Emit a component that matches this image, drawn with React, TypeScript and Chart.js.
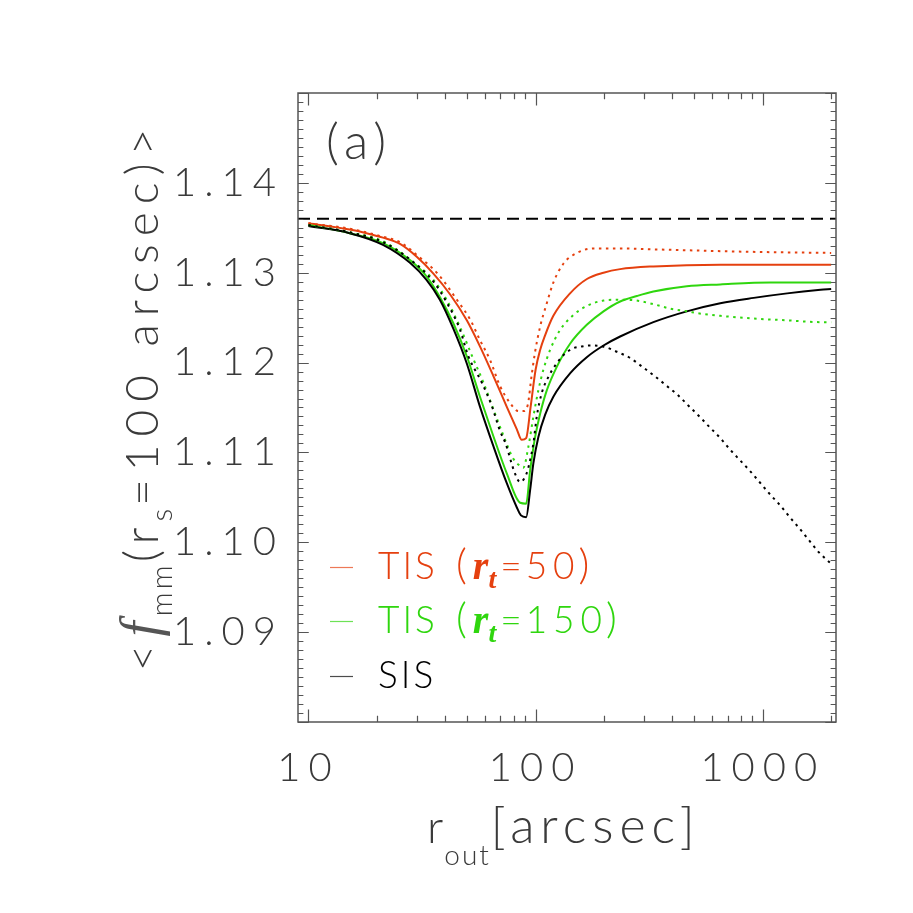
import React, { useEffect, useRef } from 'react';
import { Chart, registerables } from 'chart.js';

Chart.register(...registerables);

// ---- axis ranges & ticks ----
const X_MIN = 9;
const X_MAX = 2100;
const Y_MIN = 1.08;
const Y_MAX = 1.15;
const xTickValues = [10, 100, 1000];
const xTickLabels = ['10', '100', '1000'];
const xMinorTicks = [20, 30, 40, 50, 60, 70, 80, 90, 200, 300, 400, 500, 600, 700, 800, 900, 2000];
const yTickValues = [1.09, 1.1, 1.11, 1.12, 1.13, 1.14];
const yTickLabels = ['1.09', '1.10', '1.11', '1.12', '1.13', '1.14'];
const yMajorFrame = [1.08, 1.09, 1.1, 1.11, 1.12, 1.13, 1.14, 1.15];

// ---- reference level (dashed) ----
const refX = [9, 2100];
const refY = [1.136, 1.136];

// ---- TIS (r_t = 50), solid ----
const tis50X = [10, 15.2, 18.0, 21.3, 25.3, 29.9, 35.5, 42.0, 49.8, 56.9, 65.2, 74.6, 82.6, 86.9, 90.9, 95.0, 100.0, 104.7, 110, 119.7, 141.8, 168.2, 199, 235.6, 330, 650, 1000, 2000];
const tis50Y = [1.1355, 1.1348, 1.1344, 1.1339, 1.1332, 1.1318, 1.1299, 1.1276, 1.1247, 1.1218, 1.1185, 1.1151, 1.1126, 1.1114, 1.1116, 1.1150, 1.1192, 1.1214, 1.1230, 1.1252, 1.1277, 1.1293, 1.1300, 1.1304, 1.1307, 1.1309, 1.1309, 1.1309];

// ---- TIS (r_t = 50), dotted ----
const tis50dX = [10, 15.2, 21.3, 25.3, 31.6, 35.5, 39.3, 45.0, 51.5, 56.9, 63.0, 69.7, 77.2, 84.0, 88.3, 92.4, 96.2, 99.5, 104.7, 112, 119.7, 132.5, 152, 180, 235.6, 330, 650, 1000, 2000];
const tis50dY = [1.1355, 1.1349, 1.1340, 1.1334, 1.1315, 1.1304, 1.1291, 1.1270, 1.1248, 1.1225, 1.1203, 1.1174, 1.1155, 1.1146, 1.1146, 1.1153, 1.1187, 1.1212, 1.1240, 1.1266, 1.1289, 1.1310, 1.1322, 1.1327, 1.1327, 1.1326, 1.1324, 1.1323, 1.1322];

// ---- TIS (r_t = 150), solid ----
const tis150X = [10, 15.2, 21.3, 28.0, 33.1, 37.9, 43.4, 49.8, 56.9, 65.2, 74.6, 85.5, 90.9, 94.6, 99.5, 104.7, 112, 123.8, 141.8, 168, 199, 235.6, 279, 330, 463, 650, 1079, 2000];
const tis150Y = [1.1353, 1.1344, 1.1333, 1.1314, 1.1296, 1.1273, 1.1244, 1.1207, 1.1162, 1.1118, 1.1077, 1.1044, 1.1043, 1.1080, 1.1117, 1.1143, 1.1169, 1.1195, 1.1221, 1.1242, 1.1257, 1.1268, 1.1274, 1.1279, 1.1285, 1.1287, 1.1289, 1.1289];

// ---- TIS (r_t = 150), dotted ----
const tis150dX = [10, 15.2, 21.3, 28.9, 35.5, 40.6, 46.4, 53.2, 58.9, 65.2, 72.1, 79.8, 85.5, 88.3, 92.9, 97.8, 102.8, 108.2, 115.8, 128, 146.8, 168, 199, 235.6, 279, 330, 392, 463, 549, 650, 912, 1280, 1795, 2000];
const tis150dY = [1.1353, 1.1345, 1.1335, 1.1312, 1.1292, 1.1270, 1.1240, 1.1204, 1.1178, 1.1148, 1.1119, 1.1093, 1.1085, 1.1083, 1.1106, 1.1140, 1.1169, 1.1192, 1.1214, 1.1236, 1.1253, 1.1263, 1.1269, 1.1270, 1.1269, 1.1265, 1.1260, 1.1257, 1.1254, 1.1252, 1.1249, 1.1247, 1.1245, 1.1245];

// ---- SIS, solid ----
const sisX = [10, 15.2, 21.3, 28.0, 33.1, 37.9, 43.4, 49.8, 56.9, 65.2, 74.6, 82.6, 86.2, 90.9, 94.6, 97.8, 102.8, 110.2, 119.7, 141.8, 168, 199, 235.6, 330, 463, 650, 912, 1280, 1795, 2000];
const sisY = [1.1352, 1.1344, 1.1331, 1.1311, 1.1292, 1.1270, 1.1238, 1.1199, 1.1151, 1.1107, 1.1066, 1.1039, 1.1030, 1.1028, 1.1058, 1.1088, 1.1117, 1.1142, 1.1162, 1.1188, 1.1206, 1.1219, 1.1229, 1.1245, 1.1257, 1.1266, 1.1272, 1.1277, 1.1281, 1.1282];

// ---- SIS, dotted ----
const sisdX = [10, 15.2, 21.3, 28.9, 35.5, 40.6, 46.4, 50.6, 57.9, 64.1, 69.7, 73.5, 81.3, 85.5, 91.4, 95.3, 97.8, 101.2, 106.4, 113.8, 123.8, 134.9, 146.8, 160, 171, 197.6, 228, 261, 296, 334, 378, 422, 471, 526, 584, 650, 719, 796, 881, 975, 1079, 1194, 1314, 1455, 1600, 1763, 2000];
const sisdY = [1.1353, 1.1345, 1.1334, 1.1312, 1.1290, 1.1267, 1.1237, 1.1207, 1.1178, 1.1152, 1.1124, 1.1111, 1.1076, 1.1067, 1.1077, 1.1095, 1.1110, 1.1140, 1.1166, 1.1184, 1.1199, 1.1210, 1.1216, 1.1218, 1.1219, 1.1218, 1.1212, 1.1205, 1.1195, 1.1185, 1.1174, 1.1164, 1.1152, 1.1140, 1.1128, 1.1116, 1.1103, 1.1091, 1.1079, 1.1066, 1.1053, 1.1041, 1.1028, 1.1015, 1.1002, 1.0989, 1.0976];

// ---- colours & text ----
const RED = '#e5400f';
const GREEN = '#2fd60e';
const BLACK = '#000000';
const TEXT = '#3a3a3a';
const FRAME = '#555555';
const FONT = 'Lato';
const legendEntries = [
  { name: 'TIS', rt: '50', color: RED },
  { name: 'TIS', rt: '150', color: GREEN },
  { name: 'SIS', rt: '', color: BLACK },
];
const panelLabel = '(a)';

type Part = { text: string; font: string; dy?: number; ls?: number; color?: string; gap?: number };

function partsWidth(ctx: CanvasRenderingContext2D, parts: Part[]) {
  let w = 0;
  for (const p of parts) {
    ctx.font = p.font;
    (ctx as any).letterSpacing = (p.ls || 0) + 'px';
    w += ctx.measureText(p.text).width + (p.gap || 0);
  }
  return w;
}

function drawParts(ctx: CanvasRenderingContext2D, parts: Part[], x: number, y: number, color: string) {
  let cx = x;
  for (const p of parts) {
    ctx.font = p.font;
    (ctx as any).letterSpacing = (p.ls || 0) + 'px';
    ctx.fillStyle = p.color || color;
    ctx.fillText(p.text, cx, y + (p.dy || 0));
    cx += ctx.measureText(p.text).width + (p.gap || 0);
  }
  return cx;
}

const framePlugin = {
  id: 'idlFrame',
  beforeDraw(chart: any) {
    const ctx = chart.ctx as CanvasRenderingContext2D;
    ctx.save();
    ctx.fillStyle = '#ffffff';
    ctx.fillRect(0, 0, chart.width, chart.height);
    ctx.restore();
    (ctx as any).letterSpacing = '8px';
  },
  afterDraw(chart: any) {
    const ctx = chart.ctx as CanvasRenderingContext2D;
    (ctx as any).letterSpacing = '0px';
    const { left, right, top, bottom } = chart.chartArea;
    const xs = chart.scales.x;
    const ys = chart.scales.y;
    ctx.save();
    ctx.strokeStyle = FRAME;
    ctx.lineWidth = 1.5;
    ctx.strokeRect(left, top, right - left, bottom - top);
    const xMajLen = 0.02 * (bottom - top);
    const yMajLen = 0.02 * (right - left);
    ctx.beginPath();
    const xTick = (v: number, len: number) => {
      const px = Math.round(xs.getPixelForValue(v)) + 0.5;
      ctx.moveTo(px, bottom); ctx.lineTo(px, bottom - len);
      ctx.moveTo(px, top); ctx.lineTo(px, top + len);
    };
    xTickValues.forEach((v) => xTick(v, xMajLen));
    xMinorTicks.forEach((v) => xTick(v, xMajLen / 2));
    const yTick = (v: number, len: number) => {
      const py = Math.round(ys.getPixelForValue(v)) + 0.5;
      ctx.moveTo(left, py); ctx.lineTo(left + len, py);
      ctx.moveTo(right, py); ctx.lineTo(right - len, py);
    };
    yMajorFrame.forEach((v, i) => {
      yTick(v, yMajLen);
      if (i < yMajorFrame.length - 1) {
        for (let k = 1; k < 10; k++) yTick(v + (k * (yMajorFrame[i + 1] - v)) / 10, yMajLen / 2);
      }
    });
    ctx.lineWidth = 1.2;
    ctx.stroke();

    ctx.textBaseline = 'alphabetic';
    ctx.textAlign = 'left';

    // panel label
    drawParts(ctx, [{ text: panelLabel, font: `300 50px ${FONT}`, ls: 6 }], left + 28, top + 66, TEXT);

    // legend
    const rowBase = [579, 633, 688];
    legendEntries.forEach((e, i) => {
      const b = rowBase[i];
      ctx.save();
      ctx.strokeStyle = e.color;
      ctx.globalAlpha = 0.7;
      ctx.lineWidth = 1.2;
      ctx.beginPath();
      ctx.moveTo(left + 32, b - 11.5);
      ctx.lineTo(left + 55, b - 11.5);
      ctx.stroke();
      ctx.restore();
      drawParts(ctx, [{ text: e.name, font: `300 37px ${FONT}`, ls: 3 }], left + 80, b, e.color);
      if (e.rt) {
        drawParts(
          ctx,
          [
            { text: '(', font: `300 42px ${FONT}`, gap: 6 },
            { text: 'r', font: `italic bold 40px 'Liberation Serif'`, gap: 0 },
            { text: 't', font: `italic bold 28px 'Liberation Serif'`, dy: 9, gap: 4 },
            { text: '=', font: `300 37px ${FONT}`, gap: 4 },
            { text: e.rt, font: `300 37px ${FONT}`, ls: 6, gap: -2 },
            { text: ')', font: `300 42px ${FONT}` },
          ],
          left + 158,
          b,
          e.color
        );
      }
    });

    // x-axis title
    const xt: Part[] = [
      { text: 'r', font: `300 46px ${FONT}`, gap: 1 },
      { text: 'out', font: `300 28px ${FONT}`, dy: 22, ls: 2, gap: 0 },
      { text: '[arcsec]', font: `300 50px ${FONT}`, ls: 6 },
    ];
    drawParts(ctx, xt, 427, 843, TEXT);

    // y-axis title (rotated)
    const yt: Part[] = [
      { text: '<', font: `300 46px ${FONT}`, ls: 8 },
      { text: 'f', font: `italic 54px 'Liberation Serif'`, gap: 5, color: '#555555' },
      { text: 'mm', font: `300 30px ${FONT}`, dy: 14, ls: 3 },
      { text: '(r', font: `300 48px ${FONT}`, ls: 6 },
      { text: 's', font: `300 30px ${FONT}`, dy: 14, ls: 3 },
      { text: '=100 arcsec)>', font: `300 46px ${FONT}`, ls: 8 },
    ];
    ctx.save();
    ctx.translate(158, 396);
    ctx.rotate(-Math.PI / 2);
    const yw = partsWidth(ctx, yt);
    drawParts(ctx, yt, -yw / 2, 0, TEXT);
    ctx.restore();

    (ctx as any).letterSpacing = '0px';
    ctx.restore();
  },
};

function pts(xs: number[], ys: number[]) {
  return xs.map((x, i) => ({ x, y: ys[i] }));
}

export default function App() {
  const ref = useRef<HTMLCanvasElement>(null);
  useEffect(() => {
    const canvas = ref.current!;
    const solid = { borderWidth: 2, pointRadius: 0, fill: false, cubicInterpolationMode: 'monotone' as const };
    const dotted = { ...solid, borderDash: [2.5, 4.5] };
    const chart = new Chart(canvas, {
      type: 'line',
      data: {
        datasets: [
          { data: pts(refX, refY), borderColor: BLACK, borderWidth: 2, borderDash: [12, 7], pointRadius: 0, tension: 0 },
          { data: pts(sisdX, sisdY), borderColor: BLACK, ...dotted },
          { data: pts(tis150dX, tis150dY), borderColor: GREEN, ...dotted },
          { data: pts(tis50dX, tis50dY), borderColor: RED, ...dotted },
          { data: pts(sisX, sisY), borderColor: BLACK, ...solid },
          { data: pts(tis150X, tis150Y), borderColor: GREEN, ...solid },
          { data: pts(tis50X, tis50Y), borderColor: RED, ...solid },
        ] as any,
      },
      options: {
        responsive: false,
        animation: false,
        devicePixelRatio: 1,
        parsing: false as any,
        layout: { padding: { left: 0, right: 77, top: 93, bottom: 0 } },
        plugins: { legend: { display: false }, tooltip: { enabled: false }, title: { display: false } },
        scales: {
          x: {
            type: 'logarithmic',
            min: X_MIN,
            max: X_MAX,
            position: 'bottom',
            grid: { display: false, drawTicks: false },
            border: { display: false },
            afterBuildTicks: (s: any) => {
              s.ticks = xTickValues.map((v) => ({ value: v }));
            },
            afterFit: (s: any) => {
              s.height = 191;
            },
            ticks: {
              autoSkip: false,
              maxRotation: 0,
              minRotation: 0,
              padding: 22,
              color: TEXT,
              font: { family: FONT, size: 40, weight: '300' as any },
              callback: (_v: any, i: number) => xTickLabels[i],
            },
          },
          y: {
            type: 'linear',
            min: Y_MIN,
            max: Y_MAX,
            grid: { display: false, drawTicks: false },
            border: { display: false },
            afterBuildTicks: (s: any) => {
              s.ticks = yTickValues.map((v) => ({ value: v }));
            },
            afterFit: (s: any) => {
              s.width = 298;
            },
            ticks: {
              autoSkip: false,
              padding: 14,
              color: TEXT,
              font: { family: FONT, size: 40, weight: '300' as any },
              callback: (_v: any, i: number) => yTickLabels[i],
            },
          },
        },
      } as any,
      plugins: [framePlugin],
    });
    return () => chart.destroy();
  }, []);
  return (
    <div style={{ position: 'fixed', left: 0, top: 0, width: 913, height: 913, background: '#fff' }}>
      <canvas ref={ref} width={913} height={913} style={{ display: 'block', width: 913, height: 913 }} />
    </div>
  );
}
